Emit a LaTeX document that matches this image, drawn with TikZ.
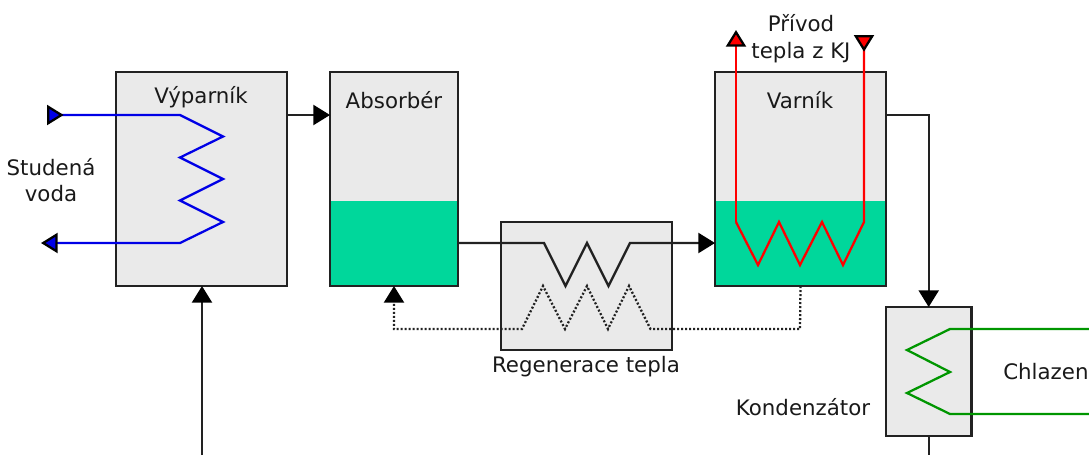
\documentclass[tikz,border=0pt]{standalone}
\usepackage{fontspec}
\setmainfont{DejaVu Sans}
\usetikzlibrary{arrows.meta,calc,positioning}
\definecolor{boxgray}{HTML}{EAEAEA}
\definecolor{liquid}{HTML}{00D79B}
\definecolor{coldblue}{HTML}{0000E6}
\definecolor{hotred}{HTML}{FF0000}
\definecolor{coolgreen}{HTML}{009600}
\definecolor{linegray}{HTML}{222222}
\tikzset{
    block/.style = {draw=linegray, fill=boxgray, rectangle, line width=1.8pt, outer sep=0pt, inner sep=0pt},
    label/.style = {inner sep=0pt, align=center, font=\fontsize{16pt}{20pt}\selectfont, text=black!90},
    pipe/.style = {draw=linegray, line width=1.7pt, line join=miter},
    coil/.style = {line width=1.7pt, draw=#1},
    tip/.style = {-{Triangle[length=12.5pt,width=15pt,color=black,fill=#1]}},
    tiprev/.style = {{Triangle[reversed,length=12.5pt,width=15pt,color=black,fill=#1]}-}
}
\begin{document}
\begin{tikzpicture}[x=0.75pt,y=-0.75pt]
        \useasboundingbox (0,0) rectangle (1089,455);
        % blocks
        \node [block, minimum width=128.25pt, minimum height=160.5pt] (vyp) at (201.5,179) {};
        \node [block, minimum width=96pt, minimum height=160.5pt] (abs) at (394,179) {};
        \node [block, minimum width=128.25pt, minimum height=160.5pt] (var) at (800.5,179) {};
        \node [block, minimum width=128.25pt, minimum height=96pt] (reg) at (586.5,286) {};
        \node [block, minimum width=64pt, minimum height=96.75pt] (kon) at (928.7,371.5) {};
        % liquid levels
        \foreach \a in {abs,var}{
            \fill [liquid] ($(\a.south west)+(1,-1)$) rectangle ($(\a.south east |- 0,201)+(-1,0)$);
            \draw [draw=linegray, line width=1.8pt] (\a.north west) rectangle (\a.south east);
        }
        % labels
        \node [label] (lvyp) at (201,97) {Výparník};
        \node [label] (labs) at (394,100) {Absorbér};
        \node [label] (lvar) at (800,100) {Varník};
        \node [label] (lvoda) at (51,180) {Studená\\voda};
        \node [label] (lteplo) at (801,39) {Přívod\\tepla z KJ};
        \node [label] (lreg) at (586,367) {Regenerace tepla};
        \node [label] (lkon) at (803,407) {Kondenzátor};
        \node [label, anchor=west] (lchl) at (1003,372) {Chlazen};
        % free ends
        \coordinate (cin) at (47,115);
        \coordinate (cout) at (41,243);
        \coordinate (hout) at (736,30);
        \coordinate (hin) at (864,35);
        \coordinate (gin) at (1089,329);
        \coordinate (gout) at (1089,414);
        \coordinate (bot1) at (202,455);
        \coordinate (bot2) at (928.7,455);
        % black connectors
        \draw [pipe, tip=black] (vyp.east |- 0,115) -- (abs.west |- 0,115);
        \draw [pipe, tip=black] (bot1) -- (vyp.south -| bot1);
        \draw [pipe, tip=black] (var.east |- 0,115) -| (kon.north);
        \draw [pipe] (kon.south) -- (bot2);
        \draw [pipe, tip=black] (abs.east |- 0,243) -- (544,243) -- (565.5,286) -- (587,243) -- (608.5,286) -- (630,243) -- (var.west |- 0,243);
        \draw [pipe, dash pattern=on 1.5pt off 1.5pt, tip=black] (var.south) -- (800,329) -- (650.5,329) -- (629,286) -- (608,329) -- (587,286) -- (565,329) -- (543,286) -- (522,329) -- (394,329) -- (abs.south);
        % coils
        \draw [coil=coldblue, tiprev=coldblue] (cin) -- (180,115) -- (223,136.5) -- (180,157.5) -- (223,179) -- (180,200.5) -- (223,222) -- (180,243) -- (58,243);
        \draw [coil=coldblue, tip=coldblue] (58,243) -- (cout);
        \draw [coil=hotred, tip=hotred] (736,222) -- (hout);
        \draw [coil=hotred, tiprev=hotred] (hin) -- (864,222) -- (843,265) -- (822,222) -- (800,265) -- (779,222) -- (758,265) -- (736,222);
        \draw [coil=coolgreen] (gin) -- (950,329) -- (907,350) -- (950,372) -- (907,393) -- (950,414) -- (gout);
\end{tikzpicture}
\end{document}
